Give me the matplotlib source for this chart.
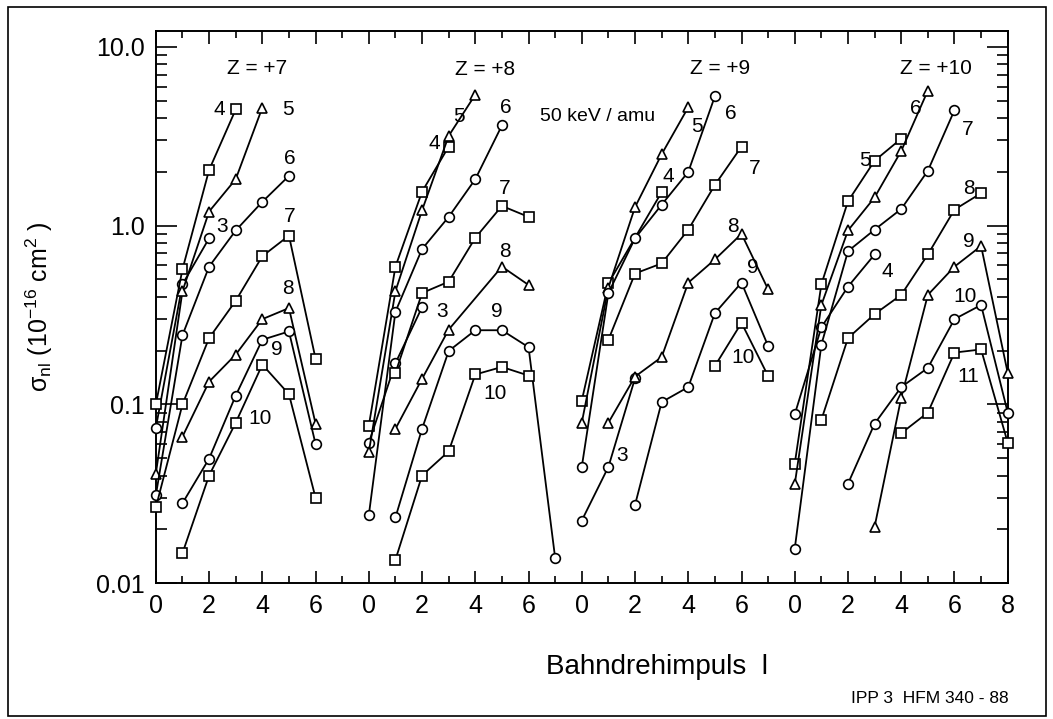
import matplotlib
matplotlib.use('Agg')
import matplotlib.pyplot as plt
from matplotlib.patches import Rectangle
from matplotlib.ticker import LogLocator, NullFormatter

plt.rcParams['font.family'] = 'Liberation Sans'
plt.rcParams['mathtext.fontset'] = 'custom'
plt.rcParams['mathtext.rm'] = 'Liberation Sans'
plt.rcParams['mathtext.it'] = 'Liberation Sans:italic'

# each Z panel is shifted 8 units of l to the right on one shared axis
PANEL_SHIFT = 8
Z_VALUES = [7, 8, 9, 10]

# ---- Z = +7 ----
Z7_N = [3, 4, 5, 6, 7, 8, 9, 10]
Z7_L = [[0, 1, 2], [0, 1, 2, 3], [0, 1, 2, 3, 4], [0, 1, 2, 3, 4, 5],
        [0, 1, 2, 3, 4, 5, 6], [1, 2, 3, 4, 5, 6], [1, 2, 3, 4, 5, 6],
        [1, 2, 3, 4, 5, 6]]
Z7_SIGMA = [[0.074, 0.47, 0.85],
            [0.10, 0.57, 2.05, 4.47],
            [0.041, 0.43, 1.2, 1.82, 4.58],
            [0.031, 0.244, 0.59, 0.94, 1.36, 1.9],
            [0.0265, 0.10, 0.235, 0.38, 0.675, 0.88, 0.18],
            [0.066, 0.134, 0.19, 0.30, 0.346, 0.078],
            [0.028, 0.0497, 0.112, 0.23, 0.256, 0.06],
            [0.0147, 0.040, 0.079, 0.167, 0.114, 0.030]]
Z7_MARKERS = ['o', 's', '^', 'o', 's', '^', 'o', 's']

# ---- Z = +8 ----
Z8_N = [3, 4, 5, 6, 7, 8, 9, 10]
Z8_L = [[0, 1, 2], [0, 1, 2, 3], [0, 1, 2, 3, 4], [0, 1, 2, 3, 4, 5],
        [1, 2, 3, 4, 5, 6], [1, 2, 3, 5, 6], [1, 2, 3, 4, 5, 6, 7],
        [1, 2, 3, 4, 5, 6]]
Z8_SIGMA = [[0.061, 0.17, 0.35],
            [0.076, 0.59, 1.55, 2.77],
            [0.054, 0.43, 1.22, 3.18, 5.41],
            [0.024, 0.33, 0.74, 1.12, 1.82, 3.64],
            [0.15, 0.42, 0.486, 0.855, 1.29, 1.12],
            [0.073, 0.139, 0.262, 0.59, 0.466],
            [0.0233, 0.073, 0.199, 0.26, 0.26, 0.209, 0.0138],
            [0.0135, 0.040, 0.0546, 0.147, 0.162, 0.145]]
Z8_MARKERS = ['o', 's', '^', 'o', 's', '^', 'o', 's']

# ---- Z = +9 ----
Z9_N = [3, 4, 5, 6, 7, 8, 9, 10]
Z9_L = [[0, 1, 2], [0, 1, 3], [0, 1, 2, 3, 4], [0, 1, 2, 3, 4, 5],
        [1, 2, 3, 4, 5, 6], [1, 2, 3, 4, 5, 6, 7], [2, 3, 4, 5, 6, 7],
        [5, 6, 7]]
Z9_SIGMA = [[0.0224, 0.0447, 0.14],
            [0.105, 0.476, 1.54],
            [0.079, 0.45, 1.27, 2.51, 4.6],
            [0.0447, 0.42, 0.85, 1.31, 2.0, 5.3],
            [0.23, 0.54, 0.615, 0.95, 1.69, 2.77],
            [0.079, 0.143, 0.184, 0.48, 0.647, 0.9, 0.44],
            [0.0274, 0.103, 0.125, 0.324, 0.48, 0.212],
            [0.164, 0.286, 0.144]]
Z9_MARKERS = ['o', 's', '^', 'o', 's', '^', 'o', 's']

# ---- Z = +10 ----
Z10_N = [4, 5, 6, 7, 8, 9, 10, 11]
Z10_L = [[0, 1, 2, 3], [0, 1, 2, 3, 4], [0, 1, 2, 3, 4, 5],
         [0, 1, 2, 3, 4, 5, 6], [1, 2, 3, 4, 5, 6, 7], [3, 4, 5, 6, 7, 8],
         [2, 3, 4, 5, 6, 7, 8], [4, 5, 6, 7, 8]]
Z10_SIGMA = [[0.088, 0.27, 0.456, 0.69],
             [0.0466, 0.47, 1.37, 2.31, 3.07],
             [0.0358, 0.36, 0.94, 1.44, 2.62, 5.7],
             [0.0156, 0.216, 0.72, 0.95, 1.24, 2.03, 4.43],
             [0.082, 0.235, 0.32, 0.41, 0.69, 1.23, 1.52],
             [0.0207, 0.109, 0.41, 0.59, 0.77, 0.15],
             [0.036, 0.078, 0.125, 0.16, 0.30, 0.36, 0.09],
             [0.069, 0.09, 0.195, 0.203, 0.061]]
Z10_MARKERS = ['o', 's', '^', 'o', 's', '^', 'o', 's']

# where the n labels sit (panel-local l, sigma)
Z7_LABEL_POS = [(2.48, 0.99), (2.37, 4.48), (4.96, 4.48), (5.04, 2.38),
                (5.04, 1.13), (4.96, 0.448), (4.55, 0.204), (3.91, 0.083)]
Z8_LABEL_POS = [(2.75, 0.329), (2.45, 2.89), (3.39, 4.09), (5.16, 4.59),
                (5.12, 1.62), (5.12, 0.72), (4.82, 0.329), (4.74, 0.115)]
Z9_LABEL_POS = [(1.52, 0.0515), (3.25, 1.89), (4.34, 3.6), (5.6, 4.25),
                (6.48, 2.1), (5.69, 0.99), (6.44, 0.586), (6.07, 0.182)]
Z10_LABEL_POS = [(3.48, 0.557), (2.65, 2.32), (4.53, 4.53), (6.49, 3.46),
                 (6.56, 1.62), (6.53, 0.82), (6.41, 0.404), (6.53, 0.144)]
Z_TITLE_POS = [(3.8, 7.6), (4.37, 7.5), (5.2, 7.6), (5.29, 7.6)]

panels = [
    (Z7_N, Z7_L, Z7_SIGMA, Z7_MARKERS, Z7_LABEL_POS),
    (Z8_N, Z8_L, Z8_SIGMA, Z8_MARKERS, Z8_LABEL_POS),
    (Z9_N, Z9_L, Z9_SIGMA, Z9_MARKERS, Z9_LABEL_POS),
    (Z10_N, Z10_L, Z10_SIGMA, Z10_MARKERS, Z10_LABEL_POS),
]

fig = plt.figure(figsize=(10.53, 7.19), dpi=100)
ax = fig.add_axes([0.148, 0.189, 0.809, 0.768])

for i, (ns, ls, sigmas, markers, label_pos) in enumerate(panels):
    shift = i * PANEL_SHIFT
    for n, l, s, m, (lx, ly) in zip(ns, ls, sigmas, markers, label_pos):
        ax.plot([v + shift for v in l], s, color='black', lw=1.3,
                marker=m, markersize=7, mfc='white', mec='black', mew=1.2,
                clip_on=False, zorder=3)
        ax.text(lx + shift, ly, str(n), fontsize=15, ha='center', va='center')
    tx, ty = Z_TITLE_POS[i]
    ax.text(tx + shift, ty, f'Z = +{Z_VALUES[i]}', fontsize=15,
            ha='center', va='center')

ax.text(16.6, 4.1, '50 keV / amu', fontsize=14, ha='center', va='center')

ax.set_yscale('log')
ax.set_xlim(0, 32)
ax.set_ylim(0.01, 12.3)

xt = list(range(0, 33, 2))
ax.set_xticks(xt)
ax.set_xticklabels([str(p % PANEL_SHIFT) if p < 32 else '8' for p in xt])
ax.set_xticks(range(1, 32, 2), minor=True)

ax.set_yticks([0.01, 0.1, 1, 10])
ax.set_yticklabels(['0.01', '0.1', '1.0', '10.0'])
ax.yaxis.set_minor_locator(LogLocator(base=10, subs=range(2, 10)))
ax.yaxis.set_minor_formatter(NullFormatter())

ax.tick_params(which='both', direction='in', top=True, right=True, width=1.2)
ax.tick_params(axis='x', which='major', length=9, labelsize=18, pad=8)
ax.tick_params(axis='x', which='minor', length=5)
ax.tick_params(axis='y', which='major', length=15, labelsize=18, pad=8)
ax.tick_params(axis='y', which='minor', length=8)
for sp in ax.spines.values():
    sp.set_linewidth(1.4)

ax.set_ylabel(r'σ$_{\mathrm{nl}}$ (10$^{\mathrm{-16}}$ cm$^{\mathrm{2}}$ )', fontsize=18)
ax.yaxis.set_label_coords(-0.118, 0.5)
ax.text(0.588, -0.152, 'Bahndrehimpuls  l', transform=ax.transAxes,
        fontsize=20, ha='center', va='center')

fig.text(0.883, 0.029, 'IPP 3  HFM 340 - 88', fontsize=12.5, ha='center', va='center')

fig.patches.append(Rectangle((0.0076, 0.004), 0.986, 0.986, transform=fig.transFigure,
                             fill=False, edgecolor='black', lw=1.2))

fig.savefig('out.png', dpi=100)
